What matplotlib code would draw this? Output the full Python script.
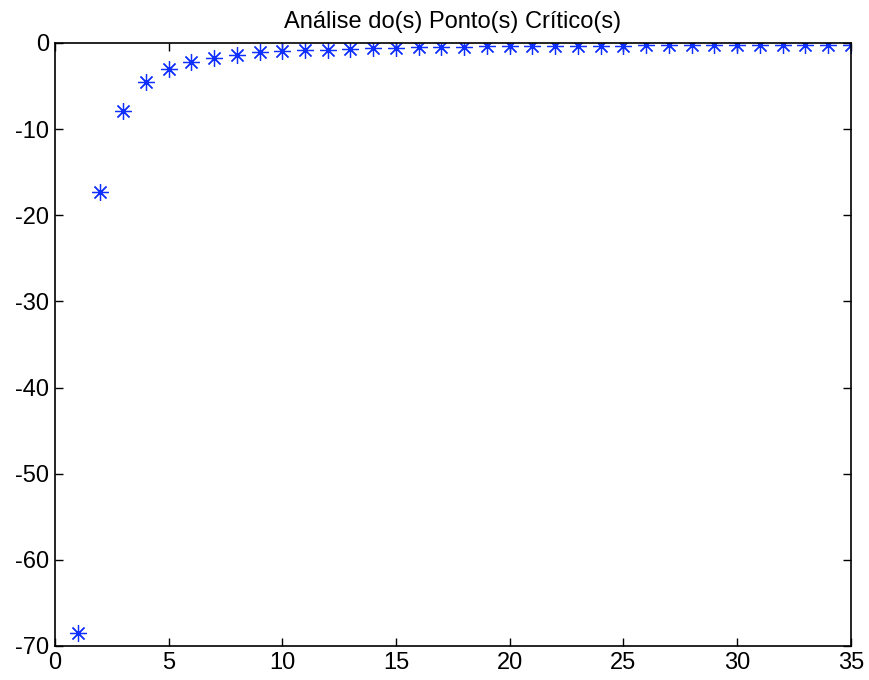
import matplotlib.pyplot as plt

# dados
x = list(range(1, 36))
y = [-68.5, -17.3, -7.9, -4.53, -3.06, -2.21, -1.74, -1.36, -1.09, -0.97,
     -0.86, -0.78, -0.70, -0.62, -0.55, -0.50, -0.47, -0.44, -0.42, -0.40,
     -0.38, -0.36, -0.34, -0.33, -0.32, -0.30, -0.29, -0.28, -0.27, -0.26,
     -0.25, -0.24, -0.23, -0.22, -0.22]

plt.rcParams['font.family'] = ['Liberation Sans', 'DejaVu Sans']
plt.rcParams['axes.unicode_minus'] = False

fig = plt.figure(figsize=(8.7, 6.8), dpi=100)
ax = fig.add_axes([0.063, 0.05, 0.915, 0.887])

ax.plot(x, y, linestyle='none', marker=(8, 2, 0), color='#1030ff',
        markersize=12, markeredgewidth=0.9)

ax.set_xlim(0, 35)
ax.set_ylim(-70, 0)
ax.set_xticks(range(0, 36, 5))
ax.set_yticks(range(-70, 1, 10))
ax.tick_params(direction='in', top=True, right=True, length=6,
               width=1, labelsize=17, pad=4)
for s in ax.spines.values():
    s.set_linewidth(1.2)

ax.set_title("Análise do(s) Ponto(s) Crítico(s)", fontsize=17, pad=11)

fig.savefig("out.png", dpi=100)
